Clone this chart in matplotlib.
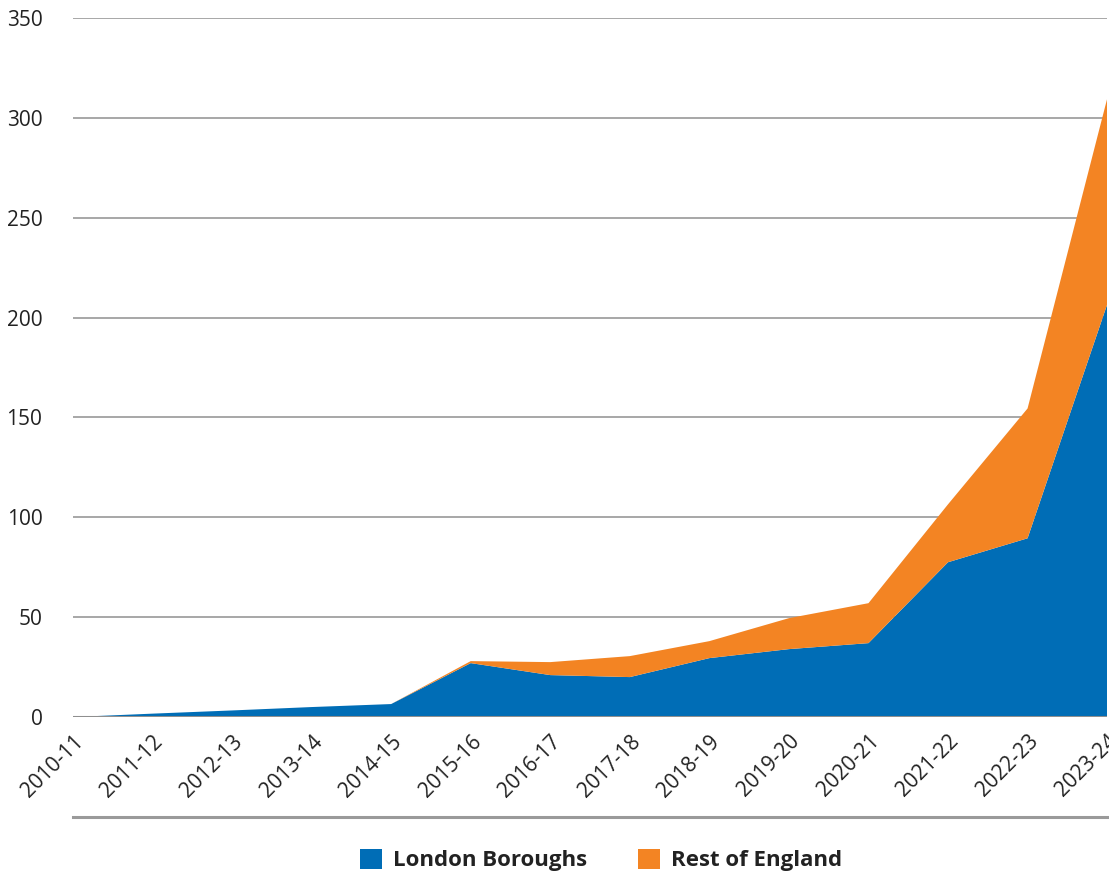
import numpy as np
import matplotlib.pyplot as plt
from matplotlib.lines import Line2D

years = ["2010-11", "2011-12", "2012-13", "2013-14", "2014-15", "2015-16", "2016-17",
         "2017-18", "2018-19", "2019-20", "2020-21", "2021-22", "2022-23", "2023-24"]
london = [0, 1.7, 3.3, 5, 6.5, 27, 21, 20, 29.5, 34, 37, 77.5, 89.5, 206.5]
rest = [0, 0, 0, 0, 0, 1, 6.5, 10.5, 8.5, 15.5, 20, 29, 65, 103]

blue = "#006db6"
orange = "#f38423"
grid_col = "#8f8f8f"

plt.rcParams["font.family"] = ["Open Sans", "DejaVu Sans"]

fig = plt.figure(figsize=(11.09, 8.77), dpi=100)
ax = fig.add_axes([0.0658, 0.1824, 0.9325, 0.7971])

x = np.arange(len(years))
ax.stackplot(x, london, rest, colors=[blue, orange],
             labels=["London Boroughs", "Rest of England"], zorder=2)

ax.set_xlim(0, len(years) - 1)
ax.set_ylim(0, 350)
ax.set_yticks(range(0, 351, 50))
ax.yaxis.grid(True, color=grid_col, linewidth=1.1, zorder=1)
ax.axhline(0, color=grid_col, linewidth=2.2, zorder=3)
ax.set_axisbelow(True)
for s in ax.spines.values():
    s.set_visible(False)

ax.tick_params(axis="both", length=0, labelsize=15, colors="#222222")
ax.tick_params(axis="y", pad=22)
ax.set_xticks(x)
ax.set_xticklabels(years, rotation=45, ha="right", rotation_mode="anchor")
ax.tick_params(axis="x", pad=10)

# separator line under the axis labels
fig.add_artist(Line2D([0.0658, 0.998], [0.0684, 0.0684], color="#9a9a9a", linewidth=2.2))

leg = fig.legend(loc="center", bbox_to_anchor=(0.542, 0.0194), ncol=2, frameon=False,
                 handlelength=1.0, handleheight=1.0, handletextpad=0.5, columnspacing=2.3,
                 prop={"family": ["Open Sans", "DejaVu Sans"], "weight": "bold", "size": 16})
for t in leg.get_texts():
    t.set_color("#222222")

fig.savefig("out.png", dpi=100)
